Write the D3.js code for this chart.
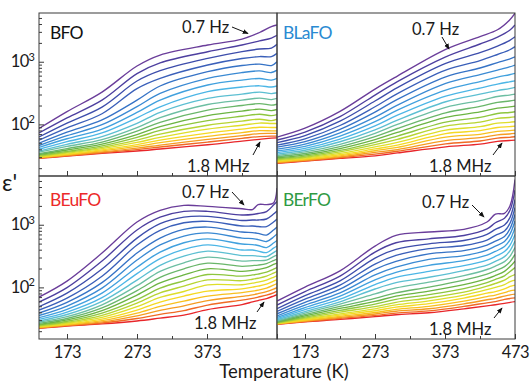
<!DOCTYPE html>
<html><head><meta charset="utf-8">
<script src="https://cdn.jsdelivr.net/npm/d3@7"></script>
<style>body{margin:0;background:#fff} text{font-family:Lato,"Open Sans",sans-serif;fill:#1a1a1a}</style>
</head><body><svg id="c" width="531" height="387"></svg>
<script>
// ---------- data ----------
const sampleNames = ["BFO", "BLaFO", "BEuFO", "BErFO"];
const sampleColors = ["#111111", "#2a8ad2", "#ec2a2a", "#2f9a43"];
const freqLabels = ["0.7 Hz", "1.8 MHz"];
const xMajorTicks = [173, 273, 373, 473];
const xMinorTicks = [223, 323, 423];
const yMajorTicks = [100, 1000];
const yMinorTicks = [20,30,40,50,60,70,80,90,200,300,400,500,600,700,800,900,2000,3000,4000,5000];
// 20 measuring frequencies, 0.7 Hz (first) ... 1.8 MHz (last)
const curveColors = ["#6a3d9a","#4d3f9f","#3d4dab","#3a5fb9","#3673c6","#3a8ad3","#41a1de","#4cb6e6",
  "#5cbfd2","#6cbea2","#6ab66a","#6cb443","#8ec63f","#b7d433","#dede2a","#f5d923","#f8c01f","#f59c22","#f06a24","#e8262a"];

// each row: epsilon' of the 20 frequencies at one temperature
const tempsBFO = [133,173,223,273,306,374,423,448,465,473];
const bfoRows = [
 [86,73,63,56,50,46,43,40,37.5,36,34,33,32,31,30.6,30,29.6,29.2,29,28.7],
 [160,127,105,88,75,66,59,53,48,44.5,41,39,37,35.7,34.7,33.6,32.9,32.2,31.6,31.1],
 [328,244,189,148,118,99,84,73,64,57,52,48.5,45.3,43,41,39.3,37.8,36.4,35.3,34.4],
 [856,648,492,373,244,192,155,127.5,104,88.7,77.8,68.8,62,56.2,51.5,47.6,44.6,41.8,39.6,37.6],
 [1280,960,720,543,410,312,244,191,156,128,108,92,80,70,62,56,51,46.8,43.5,40.5],
 [1850,1445,1132,887,694,543,425,333,260,208,169,138,115,97,84,72.7,64.4,57.6,52.2,47.3],
 [2300,1850,1455,1125,870,673,510,395,304,244,200,163,135,113,97,84,74,66.2,59.8,54.1],
 [2930,2150,1595,1210,918,714,540,413,328,263,215,175,145,121,105,90,79.5,71.3,63.8,57.8],
 [3650,2390,1655,1210,870,673,510,395,310,249,203,166,138,115,103.5,89.3,78.8,71.8,65,60.4],
 [3860,2640,1900,1360,1000,735,543,410,320,260,210,173,143,121,103.5,89.3,78.8,71.8,65,61]
];

const tempsBLaFO = [133,173,223,273,305,374,423,448,465,473];
const blafoRows = [
 [62.7,56.2,51.2,46.7,43.4,40.3,37.7,35.5,33.6,31.9,30.5,29.3,28.2,27.3,26.5,25.8,25.2,24.6,24.2,23.8],
 [87,75.4,66.3,58.9,53.1,48.5,44.6,41.4,38.6,36.3,34.3,32.6,31.2,29.9,29,28.1,27.4,26.8,26.3,25.9],
 [161,133,112.6,96,83.3,73.3,65,58.3,52.8,48.1,44.3,41.1,38.4,36.3,34.4,32.8,31.5,30.3,29.3,28.6],
 [366,294,236,191,157,130.5,110.5,94.6,82,72.1,64,57.2,51.8,47.4,43.7,40.6,38,35.8,33.5,31.5],
 [590,483,387,310,251,203,169,140,117,100,86,74.5,65,57.6,51.6,46.7,43,39.6,37.2,35],
 [1575,1200,943,735,575,452,353,283,230,187,153,129,108.5,93.6,80.8,71.3,62.7,55.1,48.9,43.8],
 [2520,1920,1395,1040,794,624,483,380,304,240,194,158,129.5,108.5,92,79.5,69.3,61.3,54.3,48.5],
 [3240,2480,1780,1305,970,735,570,440,346,279,225,182,149,124.5,104.6,89.3,77.5,68.2,60.4,53.6],
 [4610,3150,2180,1540,1105,825,620,478,373,294,236,190,155,129,107.7,92,79.5,70.2,62.2,55.3],
 [5930,3860,2510,1740,1200,887,652,496,390,304,244,196,159,132,110,93.6,80.8,71.8,63.4,56.2]
];

const tempsBEuFO = [133,173,223,273,306,340,374,423,438,446,458,468,473];
const beufoRows = [
 [70,58.3,49.3,43.4,38.9,35.5,32.9,30.8,29.1,27.8,26.7,25.7,25,24.4,23.8,23.4,23,22.7,22.4,22.2],
 [126,99,80.8,67.5,57.6,50.3,44.7,40.3,36.9,34.1,31.9,30.2,28.8,27.7,26.8,26,25.4,24.9,24.5,24.2],
 [353,263,196,151,119,97.2,80.8,68.5,59.8,52.8,47,42.6,38.9,35.8,33.3,31.2,29.5,28.1,27,26.1],
 [1105,825,612,474,353,273,210,166,130.5,106.5,88.7,75.4,63.8,56.2,49.3,43.4,38.9,35.1,31.9,29.1],
 [1700,1320,1040,815,612,478,366,287,225,180,145,118,97.2,81.7,69.2,58.3,49.7,43,37.1,32.3],
 [2040,1635,1320,1075,845,660,516,404,316,247,198,158,127,104.6,86,72.7,60.4,50.8,42.6,36.1],
 [1965,1635,1360,1132,918,743,595,478,380,304,244,198,160.5,132,110,87,72.7,61.6,52.2,44.2],
 [1800,1430,1170,954,765,612,492,395,322,263,217,180,151,128,110,94.6,82.3,71.8,62.7,53.1],
 [1750,1455,1190,954,750,600,482,395,322,268,223,187,158,135,117,101,87,76,66.6,58.6],
 [2100,1510,1190,936,728,580,466,380,316,268,227,193,163,140,121,104.6,90.3,79.5,70,61.6],
 [2100,1625,1235,936,685,540,432,359,310,273,240,207,175,151,130.5,112.6,97.2,85.5,75.4,66.3],
 [2220,2060,1480,1105,825,636,510,423,359,310,268,232,196,169,145,126,108.5,93.6,82,72.7],
 [3860,2350,1655,1235,918,714,560,457,387,328,283,244,207,179,154,133,115,99,87,76.5]
];

const tempsBErFO = [133,173,223,273,303,350,400,433,445,458,466,473];
const berfoRows = [
 [60.4,52.2,45.8,41.4,37.8,35.1,33.1,31.6,30.4,29.3,28.5,27.9,27.4,27,26.7,26.5,26.3,26.1,25.9,25.7],
 [101,85.5,74,65,57.8,52.2,47.7,44.1,41.1,38.9,36.8,35.1,33.5,32.3,31.3,30.4,29.6,29,28.5,28.2],
 [184,151,127,108.5,93.6,81.7,72.7,65,58.9,54.1,49.7,46.1,42.9,40.3,37.8,36.1,34.4,33.1,31.9,30.8],
 [457,366,294,236,194,158,131.9,111,94.3,78.6,66.8,59.8,54,49.3,45.5,42.4,39.7,37.6,35.7,34.1],
 [678,516,404,324,260,210,174,145,119,98,81.8,72.4,64.4,57.8,52.6,48.3,44.6,41.6,38.9,36.6],
 [765,595,496,415,343,280,225,180,145,121,101,87,76.5,67.8,60.9,54.9,49.9,45.6,42.1,39.3],
 [845,673,560,466,387,322,268,223,185,154,130.5,110.5,95.3,83.9,75.4,67.5,60.4,54.7,49.7,45.5],
 [1105,856,700,570,474,395,328,273,227,193,163,138,119,104.6,92,80.8,71.3,63.4,56.7,50.8],
 [1480,1075,845,678,549,457,376,312,260,219,184,155,134,115.5,100,85.5,75.4,66.8,59.3,52.8],
 [1520,1270,990,794,648,540,448,373,310,258,215,180,153,130.5,110.5,94.6,82.3,72.7,64.4,55.5],
 [2030,1715,1320,1065,870,714,580,474,387,316,258,215,179,148,123.7,103.5,88,76,66.6,57.8],
 [5260,3580,2520,1880,1455,1146,900,700,549,432,336,263,207,160,130.5,108.5,90.3,78,68,59.3]
];

// ---------- layout ----------
const padLeft = 39, padTop = 13, pw = 238, ph = 163;
const panels = [
  {temps: tempsBFO,   rows: bfoRows,   col: 0, row: 0},
  {temps: tempsBLaFO, rows: blafoRows, col: 1, row: 0},
  {temps: tempsBEuFO, rows: beufoRows, col: 0, row: 1},
  {temps: tempsBErFO, rows: berfoRows, col: 1, row: 1}
];
const nameLayout = [[11, 25.5], [6, 25.5], [11, 29.5], [6, 29.5]];
const annoLayout = [
  {hz: [143, 20], hzA: [[193, 14], [209, 20.5]], mhz: [148, 158.5], mhzA: [[214, 142], [221, 129]]},
  {hz: [135, 22], hzA: [[165, 24], [172, 36]],   mhz: [152, 158.5], mhzA: [[216, 142], [225, 130]]},
  {hz: [143, 22], hzA: [[193, 16], [205, 29]],   mhz: [155, 152.5], mhzA: [[218, 136], [225, 126]]},
  {hz: [145, 32], hzA: [[195, 29], [207, 41]],   mhz: [152, 158.5], mhzA: [[217, 142], [225, 132]]}
];

const svg = d3.select("#c");
const defs = svg.append("defs");
defs.append("marker").attr("id", "ah").attr("viewBox", "0 0 8 8").attr("refX", 7).attr("refY", 4)
  .attr("markerWidth", 6).attr("markerHeight", 6).attr("orient", "auto")
  .append("path").attr("d", "M0,0.8 L8,4 L0,7.2 Z").attr("fill", "#111");

const x = d3.scaleLinear().domain([133, 473]).range([0, pw]);
const y = d3.scaleLog().domain([15, 6000]).range([ph, 0]);
const line = d3.line().x(d => x(d[0])).y(d => y(d[1])).curve(d3.curveCatmullRom.alpha(0.5));

panels.forEach((p, pi) => {
  const g = svg.append("g").attr("transform", `translate(${padLeft + p.col * pw},${padTop + p.row * ph})`);
  defs.append("clipPath").attr("id", "clip" + pi).append("rect").attr("width", pw).attr("height", ph);
  const lg = g.append("g").attr("clip-path", `url(#clip${pi})`);
  for (let i = curveColors.length - 1; i >= 0; i--) {
    const pts = p.temps.map((t, k) => [t, p.rows[k][i]]);
    lg.append("path").attr("d", line(pts)).attr("fill", "none")
      .attr("stroke", curveColors[i]).attr("stroke-width", 1.35).attr("stroke-linejoin", "round");
  }
  g.append("rect").attr("width", pw).attr("height", ph).attr("fill", "none").attr("stroke", "#3a3a3a").attr("stroke-width", 1);
  const xg1 = g.append("g").attr("transform", `translate(0,${ph})`)
    .call(d3.axisBottom(x).tickValues(xMajorTicks).tickSize(-5).tickFormat(""));
  const xg2 = g.append("g").attr("transform", `translate(0,${ph})`)
    .call(d3.axisBottom(x).tickValues(xMinorTicks).tickSize(-3).tickFormat(""));
  [xg1, xg2].forEach(a => { a.select(".domain").remove(); a.selectAll("line").attr("stroke", "#3a3a3a"); });
  if (p.row === 1) {
    const labs = p.col === 0 ? xMajorTicks.slice(0, 3) : xMajorTicks;
    const xl = g.append("g").attr("transform", `translate(0,${ph})`)
      .call(d3.axisBottom(x).tickValues(labs).tickSize(0).tickPadding(7).tickFormat(d3.format("d")));
    xl.select(".domain").remove();
    xl.selectAll("text").attr("font-size", 16.5).attr("font-family", "Lato").attr("fill", "#1a1a1a").attr("letter-spacing", -0.4);
  }
  if (p.col === 0) {
    const yg1 = g.append("g").call(d3.axisLeft(y).tickValues(yMajorTicks).tickSize(-5).tickFormat(""));
    const yg2 = g.append("g").call(d3.axisLeft(y).tickValues(yMinorTicks).tickSize(-3).tickFormat(""));
    [yg1, yg2].forEach(a => { a.select(".domain").remove(); a.selectAll("line").attr("stroke", "#3a3a3a"); });
    yMajorTicks.forEach(v => {
      const t = g.append("text").attr("x", -4).attr("y", y(v) + 5.5).attr("text-anchor", "end").attr("font-size", 16.5);
      t.append("tspan").text("10").attr("letter-spacing", -0.6);
      t.append("tspan").text(v === 100 ? "2" : "3").attr("font-size", 11).attr("dy", -6.5);
    });
  }
  g.append("text").attr("x", nameLayout[pi][0]).attr("y", nameLayout[pi][1]).attr("font-size", 17.5)
    .attr("letter-spacing", -0.8).style("fill", sampleColors[pi]).text(sampleNames[pi]);
  const a = annoLayout[pi];
  g.append("text").attr("x", a.hz[0]).attr("y", a.hz[1]).attr("font-size", 16.5).text(freqLabels[0]);
  g.append("text").attr("x", a.mhz[0]).attr("y", a.mhz[1]).attr("font-size", 16.5).text(freqLabels[1]);
  [a.hzA, a.mhzA].forEach(seg => {
    g.append("line").attr("x1", seg[0][0]).attr("y1", seg[0][1]).attr("x2", seg[1][0]).attr("y2", seg[1][1])
      .attr("stroke", "#111").attr("stroke-width", 1).attr("marker-end", "url(#ah)");
  });
});

svg.append("text").attr("x", 284).attr("y", 378).attr("text-anchor", "middle").attr("font-size", 18.5).text("Temperature (K)");
svg.append("text").attr("x", 2).attr("y", 191).attr("font-size", 23).text("ε'");
</script></body></html>
